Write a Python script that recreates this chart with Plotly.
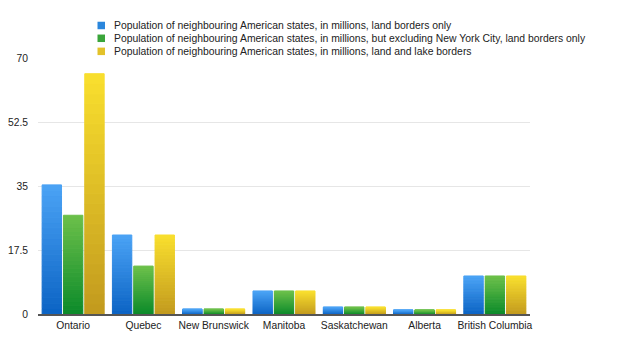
import plotly.graph_objects as go

provinces = ["Ontario", "Quebec", "New Brunswick", "Manitoba", "Saskatchewan", "Alberta", "British Columbia"]
land_only = [35.3, 21.6, 1.35, 6.3, 1.9, 1.1, 10.4]
land_excl_nyc = [27.0, 13.1, 1.35, 6.3, 1.9, 1.1, 10.4]
land_and_lake = [65.7, 21.6, 1.35, 6.3, 1.9, 1.1, 10.4]
series_names = [
    "Population of neighbouring American states, in millions, land borders only",
    "Population of neighbouring American states, in millions, but excluding New York City, land borders only",
    "Population of neighbouring American states, in millions, land and lake borders",
]
y_ticks = [0, 17.5, 35, 52.5, 70]
y_tick_labels = ["0", "17.5", "35", "52.5", "70"]

# gradient colours (bottom, top) per series, and legend swatch colours
grad = [((11, 99, 196), (75, 163, 245)),
        ((11, 138, 42), (108, 192, 74)),
        ((194, 154, 30), (249, 223, 46))]
swatch = ["#2a86dc", "#3aa53a", "#e3c22a"]
series = [land_only, land_excl_nyc, land_and_lake]

N = 24


def mix(c0, c1, t):
    return "rgb(%d,%d,%d)" % tuple(round(a + (b - a) * t) for a, b in zip(c0, c1))


fig = go.Figure()
for si, (name, vals, (c0, c1)) in enumerate(zip(series_names, series, grad)):
    for k in range(N):
        col = mix(c0, c1, (k + 0.5) / N)
        fig.add_trace(go.Bar(
            x=provinces,
            y=[v / N for v in vals],
            base=[v * k / N for v in vals],
            name=name,
            offsetgroup=str(si),
            marker=dict(color=col, line=dict(width=1, color=col)),
            showlegend=False,
            hoverinfo="skip" if k < N - 1 else None,
        ))

font = "Liberation Sans, Arial, sans-serif"
annotations = []
shapes = []
leg_y = [1.127, 1.077, 1.026]
for name, col, yy in zip(series_names, swatch, leg_y):
    annotations.append(dict(xref="paper", yref="paper", x=0.1504, y=yy, xanchor="left", yanchor="middle",
                            text=name, showarrow=False, font=dict(family=font, size=10.4, color="#222")))
    shapes.append(dict(type="rect", xref="paper", yref="paper", xsizemode="pixel", ysizemode="pixel",
                       xanchor=0, yanchor=yy, x0=59.5, x1=67, y0=-3.75, y1=3.75,
                       fillcolor=col, line=dict(width=0)))

fig.update_layout(
    width=612, height=349,
    margin=dict(l=30, r=90, t=50, b=43),
    paper_bgcolor="white", plot_bgcolor="white",
    barmode="group", bargap=0.09, bargroupgap=0.09,
    font=dict(family=font, size=10.3, color="#222"),
    annotations=annotations, shapes=shapes,
    xaxis=dict(showline=True, linecolor="#555", linewidth=1.5, ticks="", ticklabelstandoff=1,
               automargin=False, tickfont=dict(size=10.3, color="#222")),
    yaxis=dict(range=[0, 70], tickvals=y_ticks, ticktext=y_tick_labels, showgrid=True,
               gridcolor="#e6e6e6", gridwidth=1, zeroline=False, ticklabelstandoff=9,
               automargin=False, tickfont=dict(size=10.3, color="#222")),
)
fig.write_html("out.html")
